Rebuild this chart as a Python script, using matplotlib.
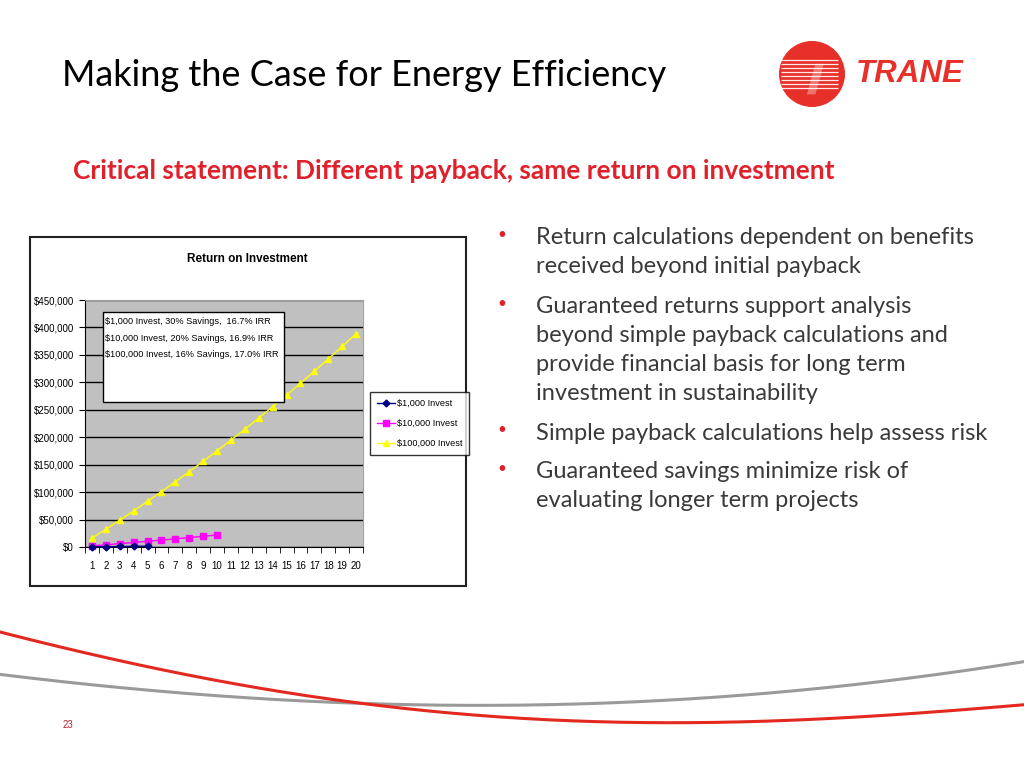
import numpy as np
import matplotlib.pyplot as plt
from matplotlib.patches import Rectangle, Circle, Polygon
from matplotlib.lines import Line2D

# chart data (cumulative savings)
years = list(range(1, 21))
invest_1k = [300, 610, 920, 1240, 1560]
invest_10k = [2000, 4040, 6120, 8240, 10400, 12600, 14900, 17200, 19500, 21900]
invest_100k = [16000, 32300, 49000, 65900, 83300, 100900, 118900, 137300, 156100, 175200,
               194700, 214600, 234900, 255600, 276700, 298200, 320200, 342600, 365400, 388800]
series_names = ["$1,000 Invest", "$10,000 Invest", "$100,000 Invest"]
note_lines = ["$1,000 Invest, 30% Savings,  16.7% IRR",
              "$10,000 Invest, 20% Savings, 16.9% IRR",
              "$100,000 Invest, 16% Savings, 17.0% IRR"]
bullets = [
    ["Return calculations dependent on benefits", "received beyond initial payback"],
    ["Guaranteed returns support analysis", "beyond simple payback calculations and",
     "provide financial basis for long term", "investment in sustainability"],
    ["Simple payback calculations help assess risk"],
    ["Guaranteed savings minimize risk of", "evaluating longer term projects"],
]
bullet_y = [238, 307, 433, 472]   # first line centre of each bullet, px from top
line_step = 28.8

# swoosh decoration (px)
red_x = [0, 100, 200, 300, 380, 620, 720, 820, 920, 1024]
red_y = [631.7, 656.7, 678, 694, 705, 722.7, 723.3, 718, 712.7, 705]
grey_x = [0, 100, 200, 300, 370, 500, 620, 820, 1024]
grey_y = [674, 686.7, 694, 700, 704, 705.5, 702.7, 688, 661.7]

W, H = 1024, 768
narrow = ['Liberation Sans Narrow', 'Liberation Sans', 'DejaVu Sans']
slide_font = ['Lato', 'DejaVu Sans']

fig = plt.figure(figsize=(W / 100, H / 100), dpi=100)
fig.patch.set_facecolor('white')

def fx(x):
    return np.asarray(x) / W

def fy(y):
    return 1 - np.asarray(y) / H

# slide title and subtitle
fig.text(fx(62), fy(75), "Making the Case for Energy Efficiency", fontsize=26,
         family=slide_font, va='center', ha='left', color='black')
fig.text(fx(73), fy(171), "Critical statement: Different payback, same return on investment",
         fontsize=19, fontweight='bold', family=slide_font, color='#E0202A', va='center')

# logo
logo_ax = fig.add_axes([fx(778), fy(108), fx(68), 68 / H])
logo_ax.set_xlim(-1, 1)
logo_ax.set_ylim(-1, 1)
logo_ax.set_aspect('equal')
logo_ax.axis('off')
logo_ax.add_patch(Circle((0, 0), 0.95, color='#E8302A'))
for yy in np.arange(-0.42, 0.45, 0.12):
    logo_ax.plot([-0.92, 0.75], [yy, yy], color='white', lw=0.9, solid_capstyle='butt', alpha=0.9)
logo_ax.add_patch(Polygon([(-0.15, -0.6), (0.1, -0.6), (0.35, 0.3), (0.1, 0.3)],
                          closed=True, color='#F4A09A', alpha=0.6, lw=0))
fig.text(fx(856), fy(74), "TRANE", fontsize=22.5, fontweight='heavy', style='italic',
         family=['Liberation Sans', 'DejaVu Sans'], color='#E8302A', va='center')

# bullets
for lines, y0 in zip(bullets, bullet_y):
    fig.text(fx(502), fy(y0 - 3), "\u2022", fontsize=11, color='#E0202A', va='center',
             ha='center', family=slide_font)
    for i, line in enumerate(lines):
        fig.text(fx(536), fy(y0 + i * line_step), line, fontsize=17, color='#3A3A3A',
                 va='center', family=slide_font)

# chart frame
fig.patches.append(Rectangle((fx(30), fy(586)), fx(436), 349 / H, transform=fig.transFigure,
                             facecolor='white', edgecolor='#202020', lw=1.5, zorder=-1))
fig.text(fx(247), fy(259), "Return on Investment", fontsize=8.5, fontweight='bold',
         family=narrow, ha='center', va='center')

ax = fig.add_axes([fx(85), fy(547), fx(278), 247 / H])
ax.set_facecolor('#C0C0C0')
ax.set_xlim(0.5, 20.5)
ax.set_ylim(0, 450000)
ax.set_yticks(np.arange(0, 450001, 50000))
ax.set_yticklabels(["${:,.0f}".format(v) for v in np.arange(0, 450001, 50000)])
ax.set_xticks(years)
ax.set_xticks(np.arange(0.5, 21, 1), minor=True)
ax.tick_params(axis='x', which='major', length=0, pad=10)
ax.tick_params(axis='x', which='minor', length=4, direction='out')
ax.tick_params(axis='y', length=4, direction='out', pad=4)
for lab in ax.get_xticklabels() + ax.get_yticklabels():
    lab.set_fontsize(7)
    lab.set_family(narrow)
ax.yaxis.grid(True, color='black', lw=1)
ax.set_axisbelow(True)
for s in ['top', 'right']:
    ax.spines[s].set_color('#A0A0A0')
    ax.spines[s].set_linewidth(0.8)

ax.plot(years[:len(invest_1k)], invest_1k, color='#000080', marker='D', ms=3.5, lw=1,
        label=series_names[0], zorder=4, clip_on=False)
ax.plot(years[:len(invest_10k)], invest_10k, color='#FF00FF', marker='s', ms=4, lw=1,
        label=series_names[1], zorder=3, clip_on=False)
ax.plot(years, invest_100k, color='#FFFF00', marker='^', ms=4.5, lw=1,
        label=series_names[2], zorder=3, clip_on=False)

# note box with the IRR summary
ax.add_patch(Rectangle((fx(103), fy(402)), fx(181), 90 / H, transform=fig.transFigure,
                       facecolor='white', edgecolor='black', lw=1, zorder=5))
for i, line in enumerate(note_lines):
    ax.text(fx(105), fy(322 + i * 16.5), line, transform=fig.transFigure, fontsize=6.6,
            family=narrow, va='center', ha='left', zorder=6)

# legend placed in the chart frame
handles = [Line2D([], [], color=c, marker=m, ms=ms, lw=1)
           for c, m, ms in [('#000080', 'D', 3.5), ('#FF00FF', 's', 4), ('#FFFF00', '^', 4.5)]]
leg = fig.legend(handles, series_names, loc='upper left',
                 bbox_to_anchor=(fx(370), fy(392)), frameon=True, fancybox=False,
                 edgecolor='black', prop={'family': narrow, 'size': 6.6}, handlelength=2,
                 handletextpad=0.2, borderpad=0.75, labelspacing=1.2, borderaxespad=0)
leg.get_frame().set_linewidth(1)

# decorative swooshes at bottom
xs = np.linspace(0, W, 300)
for px, py, col in [(grey_x, grey_y, '#9A9A9A'), (red_x, red_y, '#E3281F')]:
    coef = np.polyfit(px, py, 4)
    fig.add_artist(Line2D(fx(xs), fy(np.polyval(coef, xs)), color=col, lw=2.2,
                          transform=fig.transFigure))

fig.text(fx(68), fy(725), "23", fontsize=7, color='#C0202A', ha='center', va='center',
         family=narrow)

fig.savefig("out.png", dpi=100)
